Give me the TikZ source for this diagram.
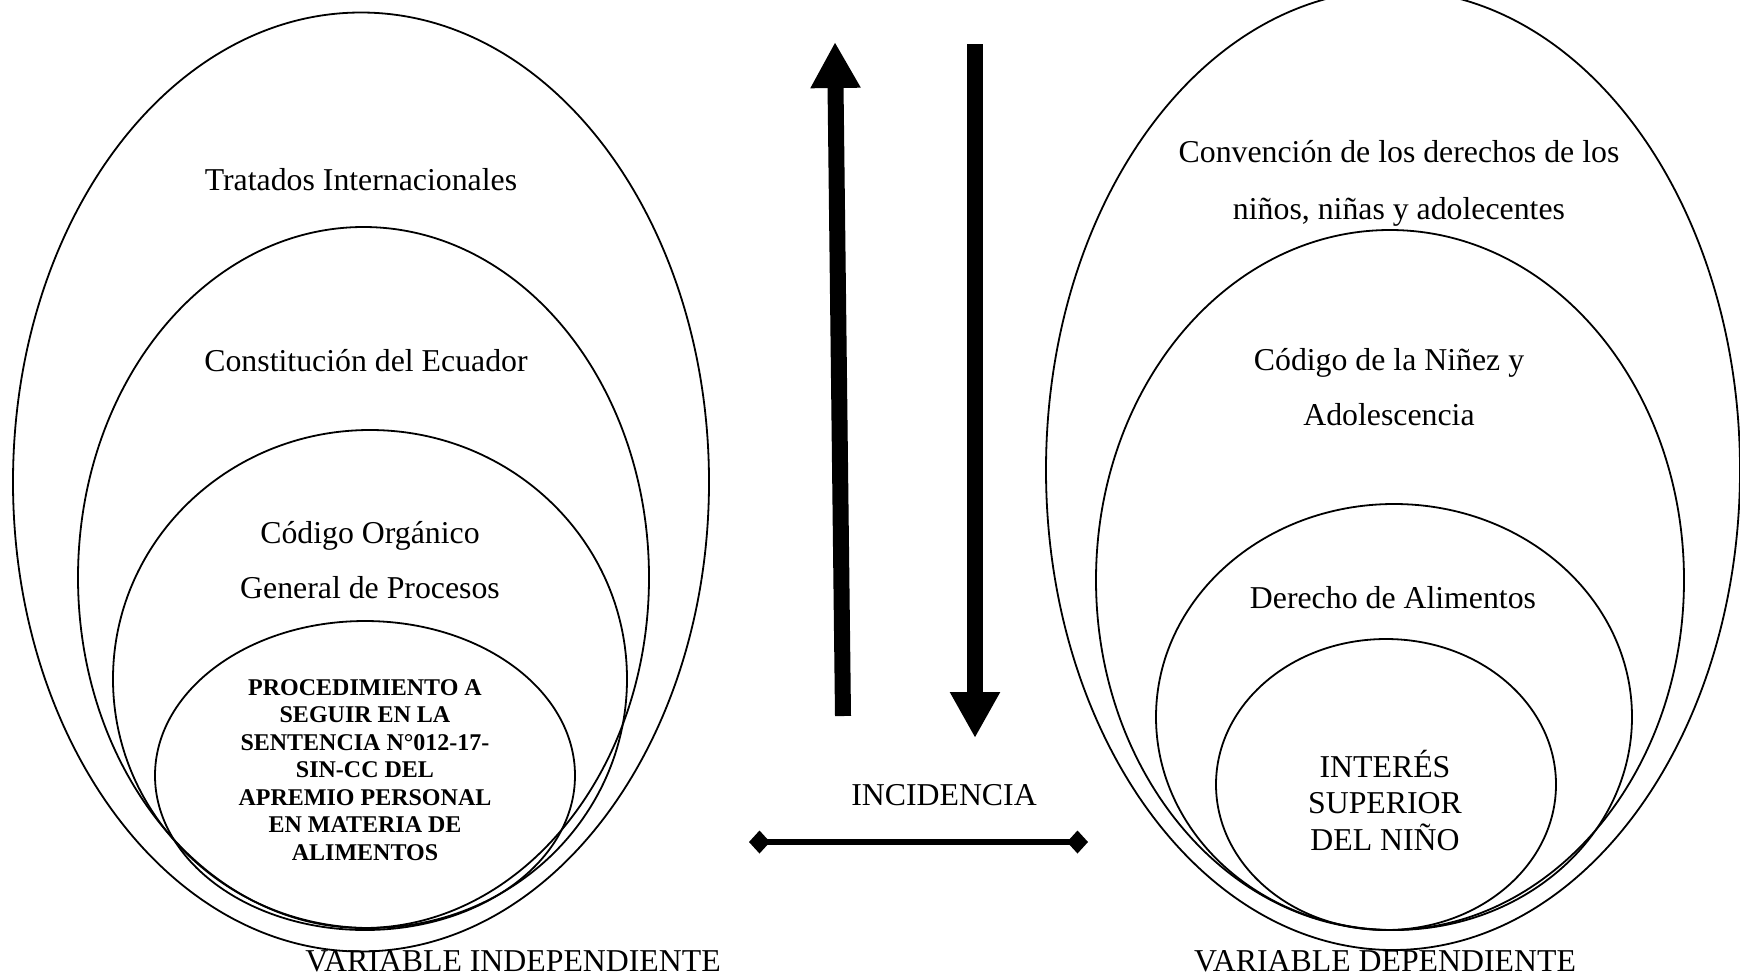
\documentclass[tikz,border=0pt]{standalone}
\usepackage{fontspec}
\setmainfont{Liberation Serif}
\usetikzlibrary{arrows.meta,shapes.geometric}
\tikzset{
  ring/.style={
    draw=black,
    ellipse,
    line width=0.9pt,
    inner sep=0pt
  },
  ringtext/.style={
    anchor=base,
    inner sep=0pt,
    align=center,
    font=\fontsize{15.9}{27.5}\selectfont
  },
  boldtext/.style={
    anchor=base,
    inner sep=0pt,
    align=center,
    font=\fontsize{12}{13.75}\selectfont\bfseries
  },
  bigarrow/.style={-{Triangle[width=23.5pt,length=23pt]},line width=8pt},
  linkline/.style={{Diamond[length=10.5pt,width=11.5pt]}-{Diamond[length=10.5pt,width=11.5pt]},line width=2.6pt}
}
\begin{document}
\begin{tikzpicture}[x=0.5pt,y=-0.5pt]
\useasboundingbox (0,0) rectangle (1740,976);
% left side: independent variable
\node[ring,minimum width=348pt,minimum height=469.5pt] (tratados) at (361,482) {};
\node[ring,minimum width=285.5pt,minimum height=350.5pt] (constitucion) at (363.5,577.5) {};
\node[ring,minimum width=257pt,minimum height=249pt] (cogep) at (370,679) {};
\node[ring,minimum width=210pt,minimum height=154.5pt] (procedimiento) at (365,775.5) {};
\node[ringtext] (tratadostxt) at (361,190) {Tratados Internacionales};
\node[ringtext] (constituciontxt) at (366,371) {Constitución del Ecuador};
% multi-line texts sit on their last baseline
\node[ringtext] (cogeptxt) at (370,598) {Código Orgánico\\General de Procesos};
\node[boldtext] (procedimientotxt) at (365,860) {PROCEDIMIENTO A\\SEGUIR EN LA\\SENTENCIA N°012-17-\\SIN-CC DEL\\APREMIO PERSONAL\\EN MATERIA DE\\ALIMENTOS};
\node[ringtext] (indep) at (513,971) {VARIABLE INDEPENDIENTE};
% right side: dependent variable
\node[ring,minimum width=347pt,minimum height=480pt] (convencion) at (1393,470) {};
\node[ring,minimum width=294pt,minimum height=350pt] (codninez) at (1390,580) {};
\node[ring,minimum width=238pt,minimum height=213pt] (alimentos) at (1394,717) {};
\node[ring,minimum width=170pt,minimum height=145.5pt] (interes) at (1386,784.5) {};
\node[ringtext,font=\fontsize{15.9}{28.5}\selectfont] (convenciontxt) at (1399,219) {Convención de los derechos de los\\niños, niñas y adolecentes};
\node[ringtext] (codnineztxt) at (1389,425) {Código de la Niñez y\\Adolescencia};
\node[ringtext] (alimentostxt) at (1393,608) {Derecho de Alimentos};
\node[ringtext,font=\fontsize{15.9}{18.25}\selectfont] (interestxt) at (1385,850) {INTERÉS\\SUPERIOR\\DEL NIÑO};
\node[ringtext] (dep) at (1385,971) {VARIABLE DEPENDIENTE};
% centre: incidence
\node[ringtext] (incidencia) at (944,805) {INCIDENCIA};
\coordinate (upfoot) at (843,716);
\coordinate (uptip) at (835,42);
\coordinate (downtop) at (975,44);
\coordinate (downtip) at (975,738);
\coordinate (linkleft) at (749,842);
\coordinate (linkright) at (1088,842);
\draw[bigarrow] (upfoot) -- (uptip);
\draw[bigarrow] (downtop) -- (downtip);
\draw[linkline] (linkleft) -- (linkright);
\end{tikzpicture}
\end{document}
